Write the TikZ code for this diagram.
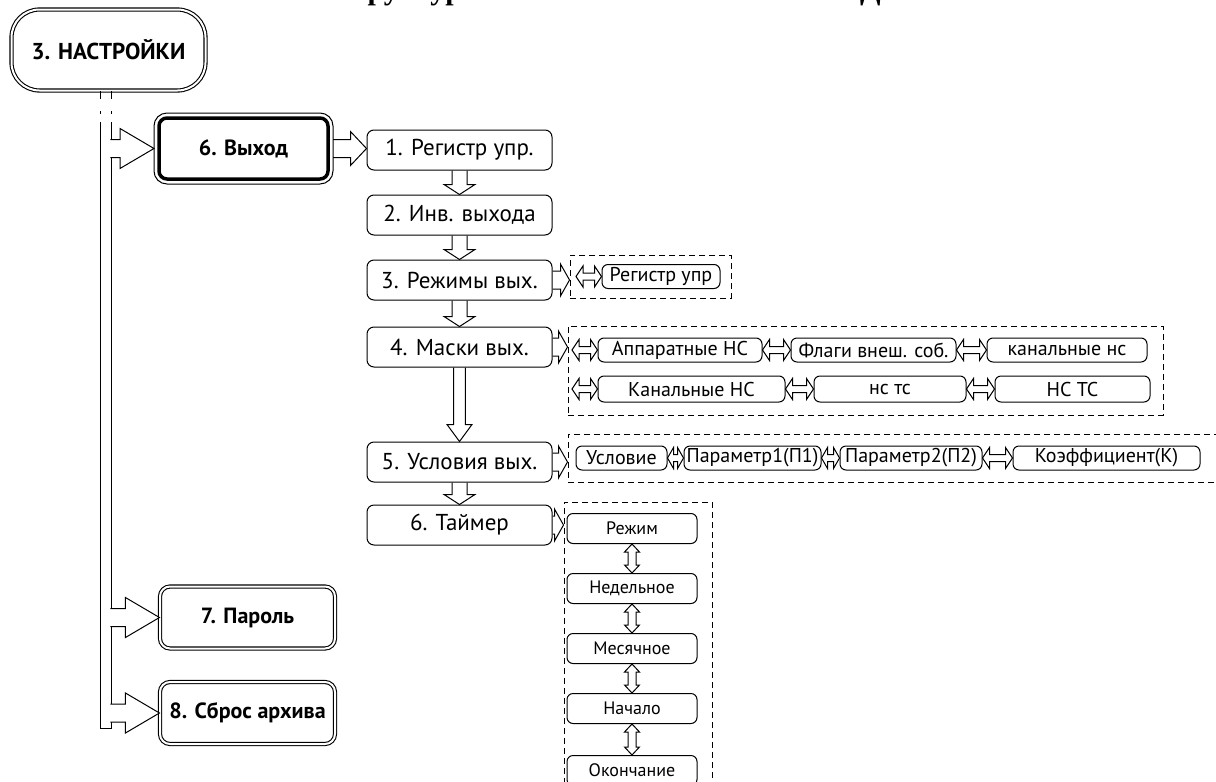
\documentclass[tikz,border=0pt]{standalone}
\usepackage{fontspec}
\setmainfont{PT Sans}
\newfontfamily\titlefont{Liberation Serif}
\usetikzlibrary{positioning,calc}

% hollow block arrows: from, to, shaft half width, head half width, head length
\newcommand{\harrow}[6][]{%
  \draw[hollow,#1] let \p1=(#2), \p2=(#3) in
    (\x1,\y1+#4) -- (\x2-#6,\y1+#4) -- (\x2-#6,\y1+#5) -- (\x2,\y1)
    -- (\x2-#6,\y1-#5) -- (\x2-#6,\y1-#4) -- (\x1,\y1-#4);}
\newcommand{\varrow}[6][]{%
  \draw[hollow,#1] let \p1=(#2), \p2=(#3) in
    (\x1-#4,\y1) -- (\x1-#4,\y2+#6) -- (\x1-#5,\y2+#6) -- (\x1,\y2)
    -- (\x1+#5,\y2+#6) -- (\x1+#4,\y2+#6) -- (\x1+#4,\y1);}
\newcommand{\hboth}[5]{%
  \draw[hollow] let \p1=(#1), \p2=(#2) in
    (\x1,\y1) -- (\x1+#5,\y1+#4) -- (\x1+#5,\y1+#3) -- (\x2-#5,\y1+#3)
    -- (\x2-#5,\y1+#4) -- (\x2,\y1) -- (\x2-#5,\y1-#4) -- (\x2-#5,\y1-#3)
    -- (\x1+#5,\y1-#3) -- (\x1+#5,\y1-#4) -- cycle;}
\newcommand{\vboth}[5]{%
  \draw[hollow] let \p1=(#1), \p2=(#2) in
    (\x1,\y1) -- (\x1+#4,\y1-#5) -- (\x1+#3,\y1-#5) -- (\x1+#3,\y2+#5)
    -- (\x1+#4,\y2+#5) -- (\x1,\y2) -- (\x1-#4,\y2+#5) -- (\x1-#3,\y2+#5)
    -- (\x1-#3,\y1-#5) -- (\x1-#4,\y1-#5) -- cycle;}

\begin{document}
\begin{tikzpicture}[x=0.5pt, y=-0.5pt, line width=0.5pt,
    hollow/.style={draw, line width=0.5pt, line join=miter},
    setbox/.style={draw, double, double distance=1pt, line width=0.55pt, rounded corners=14pt,
                   minimum width=97pt, minimum height=40.5pt, font=\bfseries\fontsize{11.5}{14}\selectfont},
    subbox/.style={draw, double, double distance=1pt, line width=0.55pt, rounded corners=5pt,
                   minimum width=87.5pt, minimum height=31pt, inner sep=1pt, font=\bfseries\fontsize{11}{13}\selectfont},
    outbox/.style={draw, line width=1.75pt, rounded corners=4pt, outer sep=0pt,
                   minimum width=84.5pt, minimum height=30.5pt, font=\bfseries\fontsize{11}{13}\selectfont},
    mainbox/.style={draw, rounded corners=3.5pt, minimum width=92.5pt, minimum height=20pt,
                    inner sep=1pt, font=\fontsize{11.5}{13}\selectfont},
    itembox/.style={draw, rounded corners=3pt, minimum height=12pt, inner sep=0.5pt,
                    font=\fontsize{10}{11}\selectfont},
    timebox/.style={draw, rounded corners=3pt, minimum width=65pt, minimum height=15pt,
                    inner sep=1pt, font=\fontsize{9}{10}\selectfont},
    grp/.style={draw, dash pattern=on 3pt off 2pt, inner sep=0pt},
    railtop/.style={dash pattern=on 4pt off 6pt on 1.5pt off 4pt}]
  \useasboundingbox (0,0) rectangle (1216,782);
  \clip (0,0) rectangle (1216,782);

  \node[anchor=base, font=\titlefont\bfseries\fontsize{15}{18}\selectfont] (title) at (606,-1)
    {Структура меню НАСТРОЙКИ ВЫХОД};

  % left part
  \node[setbox] (set) at (108.5,50) {3. НАСТРОЙКИ};
  \node[outbox] (out) at (243.5,148.5) {6. Выход};
  \draw[rounded corners=6.5pt] ($(out.south west)+(-2.5pt,-2.5pt)$) rectangle ($(out.north east)+(2.5pt,2.5pt)$);
  \node[subbox] (pass) at (247.5,617.5) {7. Пароль};
  \node[subbox] (reset) at (247.5,713) {8. Сброс архива};

  \coordinate (rl) at (100,728);
  \coordinate (rr) at (111,728);
  \coordinate (rs) at (110.3,728);
  \draw[railtop] (rl |- set.south) -- (rl |- 0,123) (rr |- set.south) -- (rr |- 0,123);
  \draw (rl |- 0,123) -- (rl) -- (rr) -- (rr |- 0,123);
  \harrow[fill=white]{rs |- out.west}{[xshift=-2.5pt]out.west}{4.5pt}{10pt}{17pt}
  \harrow[fill=white]{rs |- pass.west}{pass.west}{4.5pt}{10pt}{17pt}
  \harrow[fill=white]{rs |- reset.west}{reset.west}{4.5pt}{10pt}{17pt}

  % main column
  \node[mainbox] (b1) at (459.5,150) {1. Регистр упр.};
  \node[mainbox, below=12pt of b1] (b2) {2. Инв. выхода};
  \node[mainbox, below=12pt of b2] (b3) {3. Режимы вых.};
  \node[mainbox, below=13pt of b3] (b4) {4. Маски вых.};
  \node[mainbox, below=37pt of b4] (b5) {5. Условия вых.};
  \node[mainbox, below=11pt of b5] (b6) {6. Таймер};
  \harrow{[xshift=2.5pt]out.east}{b1.west}{4.5pt}{8.5pt}{8pt}
  \varrow{b1.south}{b2.north}{3.75pt}{7.75pt}{5pt}
  \varrow{b2.south}{b3.north}{3.75pt}{7.75pt}{5pt}
  \varrow{b3.south}{b4.north}{3.75pt}{7.75pt}{5pt}
  \varrow{b4.south}{b5.north}{2.9pt}{6.25pt}{8.5pt}
  \varrow{b5.south}{b6.north}{3.75pt}{7.75pt}{5pt}

  % groups
  \node[grp, minimum width=80.5pt, minimum height=21.5pt] (g3) at (650.5,276.5) {};
  \node[grp, minimum width=297.5pt, minimum height=44.5pt] (g4) at (865.5,370.5) {};
  \node[grp, minimum width=331pt, minimum height=24pt] (g5) at (899,458) {};
  \node[grp, minimum width=74pt, minimum height=149pt] (g6) at (638,651) {};
  \harrow{b3.east}{g3.west}{4.5pt}{8pt}{4.5pt}
  \harrow{b4.east}{g4.west}{4.5pt}{8pt}{4.5pt}
  \harrow{b5.east}{g5.west}{4.5pt}{8pt}{4.5pt}
  \harrow{b6.east}{g6.west}{4.5pt}{8pt}{4.5pt}

  % 3. modes
  \node[itembox, minimum width=59pt] (r1) at (661,276.5) {Регистр упр};
  \coordinate (r0) at (576,276.5);
  \hboth{r0}{r1.west}{1.75pt}{5.25pt}{3.5pt}

  % 4. masks
  \node[itembox, minimum width=82pt] (a1) at (680,350) {Аппаратные НС};
  \node[itembox, minimum width=82.5pt, right=14pt of a1] (a2) {Флаги внеш. соб.};
  \node[itembox, minimum width=80pt, right=15pt of a2] (a3) {канальные нс};
  \coordinate (a0) at (572,350);
  \hboth{a0}{a1.west}{1.75pt}{5.25pt}{3.5pt}
  \hboth{a1.east}{a2.west}{1.75pt}{5.25pt}{3.5pt}
  \hboth{a2.east}{a3.west}{1.75pt}{5.25pt}{3.5pt}
  \node[itembox, minimum width=93.5pt, minimum height=13pt] (c1) at (691.5,389) {Канальные НС};
  \node[itembox, minimum width=76pt, minimum height=13pt, right=14pt of c1] (c2) {нс тс};
  \node[itembox, minimum width=77.5pt, minimum height=13pt, right=14pt of c2] (c3) {НС ТС};
  \coordinate (c0) at (572,389);
  \hboth{c0}{c1.west}{1.75pt}{5.25pt}{3.5pt}
  \hboth{c1.east}{c2.west}{1.75pt}{5.25pt}{3.5pt}
  \hboth{c2.east}{c3.west}{1.75pt}{5.25pt}{3.5pt}

  % 5. conditions
  \node[itembox, minimum width=45.5pt] (u1) at (621.5,458) {Условие};
  \node[itembox, minimum width=68.5pt, right=8pt of u1] (u2) {Параметр1(П1)};
  \node[itembox, minimum width=71pt, right=9pt of u2] (u3) {Параметр2(П2)};
  \node[itembox, minimum width=93.5pt, right=15pt of u3] (u4) {Коэффициент(К)};
  \hboth{u1.east}{u2.west}{1.75pt}{5.25pt}{3pt}
  \hboth{u2.east}{u3.west}{1.75pt}{5.25pt}{3pt}
  \hboth{u3.east}{u4.west}{1.75pt}{5.25pt}{3.5pt}

  % 6. timer
  \node[timebox] (t1) at (632,528.5) {Режим};
  \node[timebox, below=14.5pt of t1] (t2) {Недельное};
  \node[timebox, below=14.5pt of t2] (t3) {Месячное};
  \node[timebox, below=14.5pt of t3] (t4) {Начало};
  \node[timebox, below=15.5pt of t4] (t5) {Окончание};
  \vboth{t1.south}{t2.north}{2pt}{3.75pt}{4pt}
  \vboth{t2.south}{t3.north}{2pt}{3.75pt}{4pt}
  \vboth{t3.south}{t4.north}{2pt}{3.75pt}{4pt}
  \vboth{t4.south}{t5.north}{2pt}{3.75pt}{4pt}
\end{tikzpicture}
\end{document}
